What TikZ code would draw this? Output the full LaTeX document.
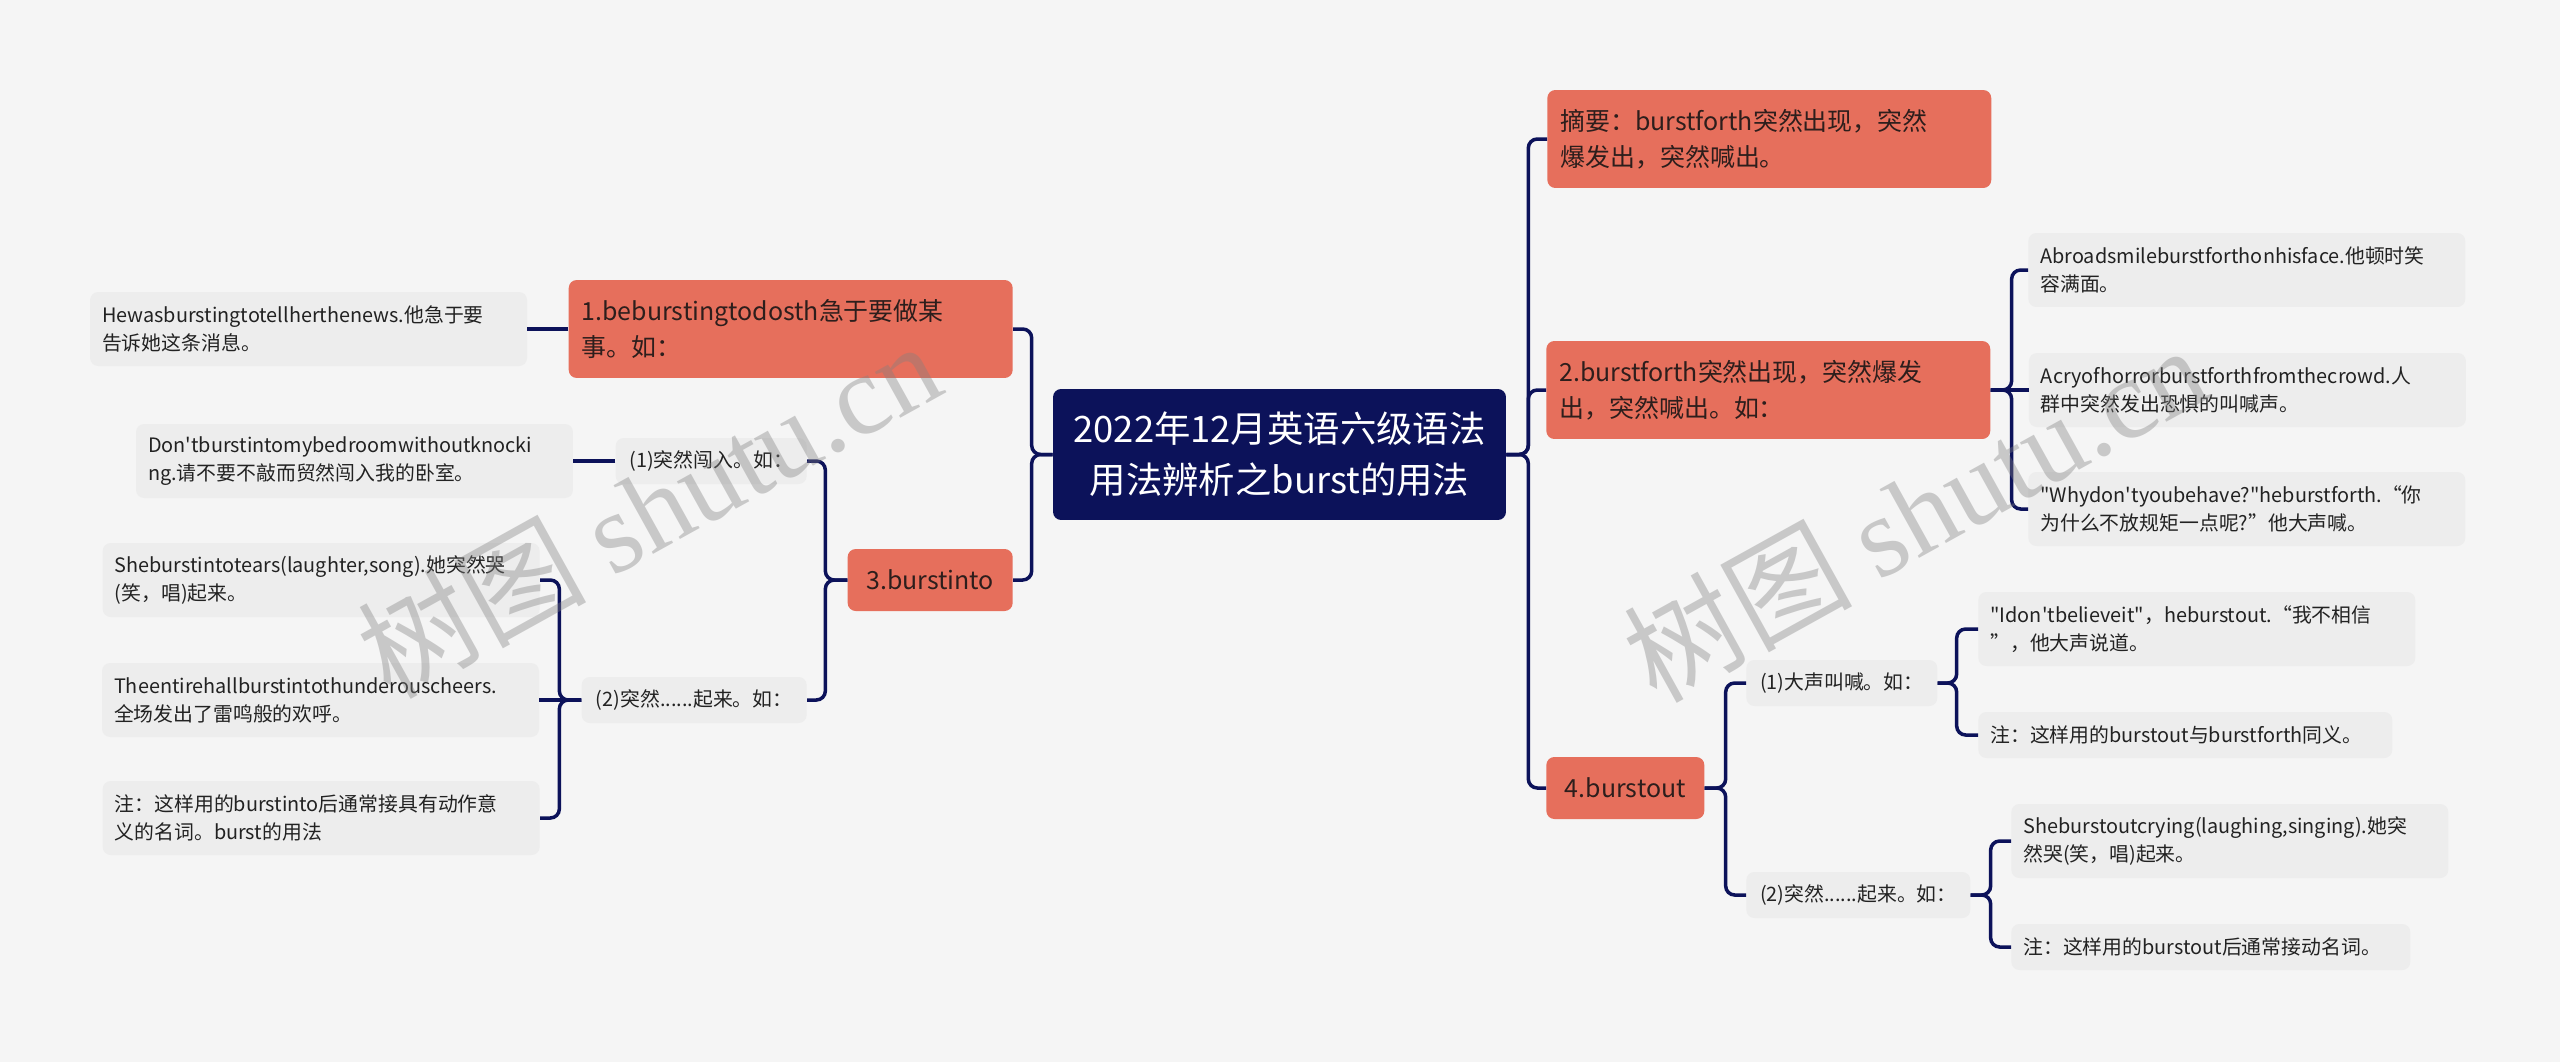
\documentclass[tikz,border=0pt]{standalone}
\usepackage{fontspec}
\setmainfont{Noto Sans CJK SC}[Ligatures=TeXOff]
\newfontfamily\wmfont{Liberation Serif}[Ligatures=TeXOff]
\usepackage{tikz}
\usetikzlibrary{positioning}
\hyphenpenalty=10000
\exhyphenpenalty=10000
\definecolor{bgcol}{RGB}{245,245,245}
\definecolor{navy}{RGB}{12,18,90}
\definecolor{salmon}{RGB}{230,111,92}
\definecolor{leafgray}{RGB}{237,237,237}
\definecolor{topicink}{RGB}{45,30,28}
\definecolor{leafink}{RGB}{34,34,34}
\tikzset{root/.style = {fill=navy, text=white, rounded corners=1.6mm, text width=84mm, inner xsep=3.3mm, minimum height=26.2mm, align=center, font=\fontsize{20.7}{29}\selectfont}}
\tikzset{topic/.style = {fill=salmon, text=topicink, rounded corners=1.6mm, inner xsep=2.6mm, minimum height=12.4mm, align=left, font=\fontsize{14.2}{20.4}\selectfont}}
\tikzset{subtopic/.style = {fill=leafgray, text=leafink, rounded corners=1.6mm, inner xsep=2.2mm, minimum height=9.2mm, font=\fontsize{11.3}{15.9}\selectfont}}
\tikzset{leaf/.style = {fill=leafgray, text=leafink, rounded corners=1.6mm, inner xsep=2.4mm, minimum height=14.8mm, text width=#1, align=left, font=\fontsize{11.3}{15.9}\selectfont}, leaf/.default=82.6mm}
\tikzset{link/.style = {draw=navy, line width=0.7mm, rounded corners=1.8mm}}
\tikzset{watermark/.style = {text=gray, text opacity=0.38, font=\fontsize{65}{65}\selectfont}}

\begin{document}
\begin{tikzpicture}[x=0.02cm, y=-0.02cm]
  \fill[bgcol] (0,0) rectangle (2560,1062);
  \useasboundingbox (0,0) rectangle (2560,1062);

  \node [root] (c) at (1279.5,454.5) {2022年12月英语六级语法\\用法辨析之burst的用法};

  % right side
  \node [topic, text width=83.6mm, minimum height=19.6mm, anchor=west] (sum) at (1547,139) {摘要：burstforth突然出现，突然\\爆发出，突然喊出。};
  \node [topic, text width=83.6mm, minimum height=19.6mm, anchor=west] (n2) at (1546,390) {2.burstforth突然出现，突然爆发\\出，突然喊出。如：};
  \node [topic, minimum width=31.6mm, anchor=west] (n4) at (1546,788) {4.burstout};

  \node [leaf, anchor=west] (n2a) at (2028,270) {Abroadsmileburstforthonhisface.他顿时笑\\容满面。};
  \node [leaf, right=7.6mm of n2] (n2b) {Acryofhorrorburstforthfromthecrowd.人\\群中突然发出恐惧的叫喊声。};
  \node [leaf, anchor=west] (n2c) at (2028,509) {"Whydon'tyoubehave?"heburstforth.“你\\为什么不放规矩一点呢?”他大声喊。};

  \node [subtopic, minimum width=38.2mm, anchor=west] (n41) at (1746,683) {(1)大声叫喊。如：};
  \node [subtopic, minimum width=44.8mm, anchor=west] (n42) at (1746,895) {(2)突然......起来。如：};
  \node [leaf, anchor=west] (n41a) at (1978,629) {"Idon'tbelieveit"，heburstout.“我不相信\\”，他大声说道。};
  \node [leaf=78mm, minimum height=9.2mm, anchor=west] (n41b) at (1978,735) {注：这样用的burstout与burstforth同义。};
  \node [leaf, anchor=west] (n42a) at (2011,841) {Sheburstoutcrying(laughing,singing).她突\\然哭(笑，唱)起来。};
  \node [leaf=75mm, minimum height=9.2mm, anchor=west] (n42b) at (2011,947) {注：这样用的burstout后通常接动名词。};

  % left side
  \node [topic, text width=83.6mm, minimum height=19.6mm, anchor=east] (n1) at (1013,329) {1.beburstingtodosth急于要做某\\事。如：};
  \node [topic, minimum width=33mm, anchor=east] (n3) at (1013,580) {3.burstinto};
  \node [leaf, left=8.2mm of n1] (n1a) {Hewasburstingtotellherthenews.他急于要\\告诉她这条消息。};

  \node [subtopic, minimum width=38.2mm, anchor=east] (n31) at (807,461) {(1)突然闯入。如：};
  \node [subtopic, minimum width=45mm, anchor=east] (n32) at (807,700) {(2)突然......起来。如：};
  \node [leaf, left=8.4mm of n31] (n31a) {Don'tburstintomybedroomwithoutknocki\\ng.请不要不敲而贸然闯入我的卧室。};
  \node [leaf, anchor=east] (n32a) at (540,580) {Sheburstintotears(laughter,song).她突然哭\\(笑，唱)起来。};
  \node [leaf, left=8.4mm of n32] (n32b) {Theentirehallburstintothunderouscheers.\\全场发出了雷鸣般的欢呼。};
  \node [leaf, anchor=east] (n32c) at (540,818) {注：这样用的burstinto后通常接具有动作意\\义的名词。burst的用法};

  % connectors
  \draw[link] (c.east) -- ++(22,0) |- (sum.west);
  \draw[link] (c.east) -- ++(22,0) |- (n2.west);
  \draw[link] (c.east) -- ++(22,0) |- (n4.west);
  \draw[link] (c.west) -- ++(-21,0) |- (n1.east);
  \draw[link] (c.west) -- ++(-21,0) |- (n3.east);

  \draw[link] (n2.east) -- ++(21,0) |- (n2a.west);
  \draw[link] (n2.east) -- (n2b.west);
  \draw[link] (n2.east) -- ++(21,0) |- (n2c.west);

  \draw[link] (n4.east) -- ++(21,0) |- (n41.west);
  \draw[link] (n4.east) -- ++(21,0) |- (n42.west);
  \draw[link] (n41.east) -- ++(19,0) |- (n41a.west);
  \draw[link] (n41.east) -- ++(19,0) |- (n41b.west);
  \draw[link] (n42.east) -- ++(20,0) |- (n42a.west);
  \draw[link] (n42.east) -- ++(20,0) |- (n42b.west);

  \draw[link] (n1.west) -- (n1a.east);
  \draw[link] (n3.west) -- ++(-22,0) |- (n31.east);
  \draw[link] (n3.west) -- ++(-22,0) |- (n32.east);
  \draw[link] (n31.west) -- (n31a.east);
  \draw[link] (n32.west) -- ++(-22,0) |- (n32a.east);
  \draw[link] (n32.west) -- (n32b.east);
  \draw[link] (n32.west) -- ++(-22,0) |- (n32c.east);

  % watermarks
  \node [watermark, rotate=29] (wm1) at (648,508) {树图 {\wmfont shutu.cn}};
  \node [watermark, rotate=29] (wm2) at (1914,512) {树图 {\wmfont shutu.cn}};
\end{tikzpicture}
\end{document}
